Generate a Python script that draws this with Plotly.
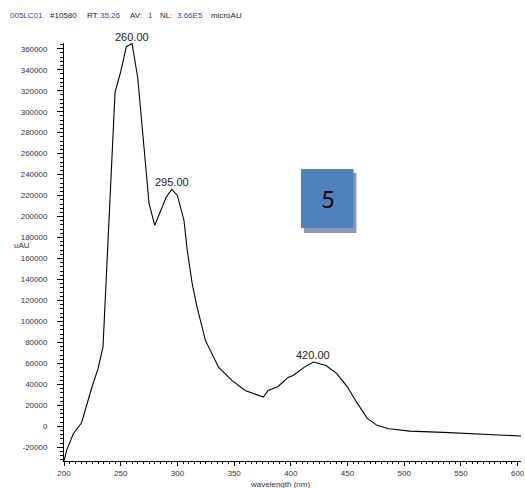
import plotly.graph_objects as go

# UV-Vis spectrum: wavelength (nm) vs absorbance (uAU)
wavelength = [200, 202.3, 208.2, 215.5, 224.2, 230, 234.4, 245, 250, 255, 260, 265,
              275, 280, 290, 295, 300, 305.8, 308.7, 313, 317.4, 324.7, 336.4, 348,
              359.7, 375.7, 380, 388.8, 397.6, 402, 412, 420, 431, 440.4, 450,
              458.7, 467.5, 476, 486.4, 505, 534.5, 563.6, 592.7, 603]
absorbance = [-33000, -22900, -7000, 3500, 35900, 55000, 75600, 318300, 338300, 362000,
              365000, 332600, 212500, 191600, 218200, 225900, 220200, 196300, 167700,
              136300, 113400, 82000, 56200, 43800, 34300, 27900, 34300, 38100, 46700,
              48600, 56500, 61300, 58100, 50500, 37500, 21900, 7600, 1000, -2200, -4500,
              -5700, -7000, -8600, -9200]

peak_wavelengths = [260, 295, 420]
peak_values = [365000, 225900, 61300]
peak_labels = ["260.00", "295.00", "420.00"]

y_ticks = list(range(-20000, 360001, 20000))
x_ticks = [200, 250, 300, 350, 400, 450, 500, 550, 600]

header = [
    ("005LC01", "#3838c0"), ("#10580", "#222244"), ("RT:", "#222222"),
    ("35.26", "#3838c0"), ("AV:", "#222222"), ("1", "#3838c0"),
    ("NL:", "#222222"), ("3.66E5", "#3838c0"), ("microAU", "#222222"),
]
header_x = [9, 49, 86, 99, 130, 148, 160, 177, 211]

W, H = 525, 488
ML, MR, MT, MB = 64, 0, 43, 27
PW, PH = W - ML - MR, H - MT - MB


def px(x):
    return (x - ML) / PW


def py(y):
    return (H - MB - y) / PH


fig = go.Figure()
fig.add_trace(go.Scatter(
    x=wavelength, y=absorbance, mode="lines",
    line=dict(color="black", width=1.1), hoverinfo="skip", showlegend=False,
))

tick_font = dict(family="Liberation Sans, Arial, sans-serif", size=8, color="#333333")

annotations = []
for wl, val, lab in zip(peak_wavelengths, peak_values, peak_labels):
    annotations.append(dict(
        x=wl, y=val, xref="x", yref="y", text=lab, showarrow=False,
        xanchor="center", yanchor="bottom", yshift=-1,
        font=dict(family="Liberation Sans, Arial, sans-serif", size=11, color="#222222"),
    ))

for (txt, col), hx in zip(header, header_x):
    annotations.append(dict(
        x=px(hx), y=py(15.7), xref="paper", yref="paper", text=txt, showarrow=False,
        xanchor="left", yanchor="middle", borderpad=0,
        font=dict(family="Liberation Sans, Arial, sans-serif", size=8, color=col),
    ))

annotations.append(dict(
    x=px(22), y=py(245), xref="paper", yref="paper", text="uAU", showarrow=False,
    xanchor="center", yanchor="middle", borderpad=0, font=tick_font,
))
annotations.append(dict(
    x=px(282), y=py(484), xref="paper", yref="paper", text="wavelength (nm)",
    showarrow=False, xanchor="center", yanchor="middle", font=tick_font,
))
annotations.append(dict(
    x=px(330), y=py(198), xref="paper", yref="paper", text="5", showarrow=False,
    xanchor="center", yanchor="middle",
    font=dict(family="Lato, Open Sans, sans-serif", size=24, color="black"),
))

shapes = [
    # drop shadow behind the badge
    dict(type="rect", xref="paper", yref="paper",
         x0=px(306), x1=px(359), y0=py(233), y1=py(173),
         fillcolor="#8e9aae", line=dict(width=0), layer="above"),
    # badge
    dict(type="rect", xref="paper", yref="paper",
         x0=px(303), x1=px(356), y0=py(228), y1=py(169),
         fillcolor="#4f81bd", line=dict(width=0), layer="above"),
]

fig.update_layout(
    width=W, height=H,
    margin=dict(l=ML, r=MR, t=MT, b=MB, pad=0),
    paper_bgcolor="white", plot_bgcolor="white",
    annotations=annotations, shapes=shapes,
    xaxis=dict(
        range=[200, 603], tickvals=x_ticks, ticktext=[str(v) for v in x_ticks],
        showgrid=False, zeroline=False, showline=True, linecolor="black", linewidth=1,
        ticks="outside", ticklen=4, tickwidth=1, tickcolor="black", tickfont=tick_font,
        ticklabeloverflow="allow", ticklabelstandoff=0,
        minor=dict(dtick=5, ticks="outside", ticklen=2, tickcolor="black", showgrid=False),
    ),
    yaxis=dict(
        range=[-33000, 365500], tickvals=y_ticks, ticktext=[str(v) for v in y_ticks],
        showgrid=False, zeroline=False, showline=True, linecolor="black", linewidth=1,
        ticks="outside", ticklen=6, tickwidth=1, tickcolor="black", tickfont=tick_font,
        ticklabelstandoff=8,
        minor=dict(dtick=4000, ticks="outside", ticklen=3, tickcolor="black", showgrid=False),
    ),
)

fig.write_html("out.html")
